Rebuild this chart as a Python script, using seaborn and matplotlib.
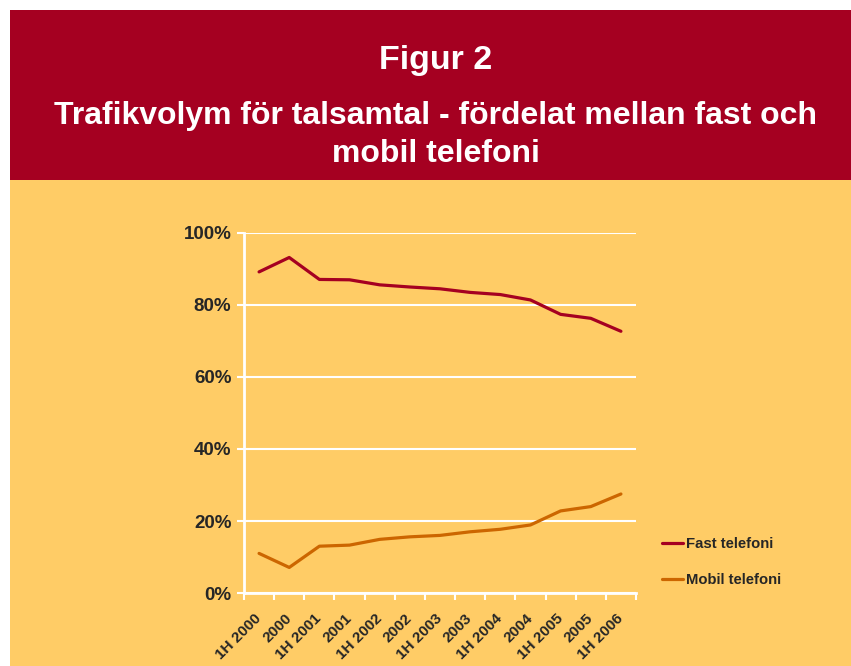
import numpy as np
import pandas as pd
import matplotlib
matplotlib.use('Agg')
import matplotlib.pyplot as plt
import matplotlib.transforms as mtransforms
import seaborn as sns
from matplotlib.patches import Rectangle
from matplotlib.lines import Line2D

# data
periods = ['1H 2000', '2000', '1H 2001', '2001', '1H 2002', '2002', '1H 2003',
           '2003', '1H 2004', '2004', '1H 2005', '2005', '1H 2006']
fast = [89.2, 93.2, 87.1, 87.0, 85.6, 85.0, 84.5, 83.5, 82.9, 81.4, 77.4, 76.3, 72.7]
mobil = [11.0, 7.1, 13.0, 13.3, 14.9, 15.6, 16.0, 17.0, 17.7, 18.9, 22.8, 24.0, 27.5]
series_names = ['Fast telefoni', 'Mobil telefoni']
colors = ['#A50021', '#CC6600']

red = '#A50021'
yellow = '#FFCC66'

sns.set_style('white')
plt.rcParams['font.family'] = ['Liberation Sans', 'DejaVu Sans']
plt.rcParams['font.weight'] = 'bold'

df = pd.DataFrame({
    'pos': list(range(len(periods))) * 2,
    'value': fast + mobil,
    'serie': [series_names[0]] * len(periods) + [series_names[1]] * len(periods),
})

fig = plt.figure(figsize=(8.51, 6.66), dpi=100)
fig.patch.set_facecolor('white')
# background bands, kept behind the axes
fig.patches.append(Rectangle((10 / 851, 0), 1, 1 - 180 / 666, transform=fig.transFigure,
                             facecolor=yellow, edgecolor='none', zorder=-5))
fig.patches.append(Rectangle((10 / 851, 1 - 180 / 666), 1, 170 / 666, transform=fig.transFigure,
                             facecolor=red, edgecolor='none', zorder=-5))

fig.text(436 / 851, 1 - 60 / 666, 'Figur 2', color='white', fontsize=24.5, fontweight='bold',
         ha='center', va='center')
fig.text(436 / 851, 1 - 135 / 666, 'Trafikvolym för talsamtal - fördelat mellan fast och\nmobil telefoni',
         color='white', fontsize=23, fontweight='bold', ha='center', va='center', linespacing=1.35)

ax = fig.add_axes([244 / 851, 1 - 593 / 666, 392 / 851, 360 / 666])
ax.set_facecolor('none')

sns.lineplot(data=df, x='pos', y='value', hue='serie', palette=colors, linewidth=2.3,
             ax=ax, legend=False)

ax.set_xlim(-0.5, len(periods) - 0.5)
ax.set_ylim(0, 100)
ax.set_yticks(range(0, 101, 20))
ax.set_yticklabels([f'{v}%' for v in range(0, 101, 20)], fontsize=13.5, fontweight='bold')
ax.yaxis.grid(True, color='white', linewidth=1.5)
ax.set_xticks(range(len(periods)))
ax.set_xticklabels(periods, rotation=45, ha='right', va='center', rotation_mode='anchor',
                   fontsize=11, fontweight='bold')
shift = mtransforms.ScaledTranslation(-6 / 100, 0, fig.dpi_scale_trans)
for lab in ax.get_xticklabels():
    lab.set_transform(lab.get_transform() + shift)
ax.set_xticks(np.arange(-0.5, len(periods), 1), minor=True)
ax.tick_params(axis='x', which='major', length=0, pad=17)
ax.tick_params(axis='x', which='minor', length=5, width=1.5, color='white', direction='out', bottom=True)
ax.tick_params(axis='y', length=5, width=1.5, color='white', direction='out', left=True, pad=4)
ax.set_xlabel('')
ax.set_ylabel('')
for side in ['top', 'right']:
    ax.spines[side].set_visible(False)
for side in ['left', 'bottom']:
    ax.spines[side].set_color('white')
    ax.spines[side].set_linewidth(2)

handles = [Line2D([], [], color=c, linewidth=2.3) for c in colors]
fig.legend(handles, series_names, loc='center left', bbox_to_anchor=(649 / 851, 1 - 562 / 666),
           frameon=False, handlelength=1.4, handletextpad=0.2, labelspacing=1.45,
           prop={'weight': 'bold', 'size': 10.7})

fig.savefig('out.png', dpi=100, facecolor=fig.get_facecolor())
